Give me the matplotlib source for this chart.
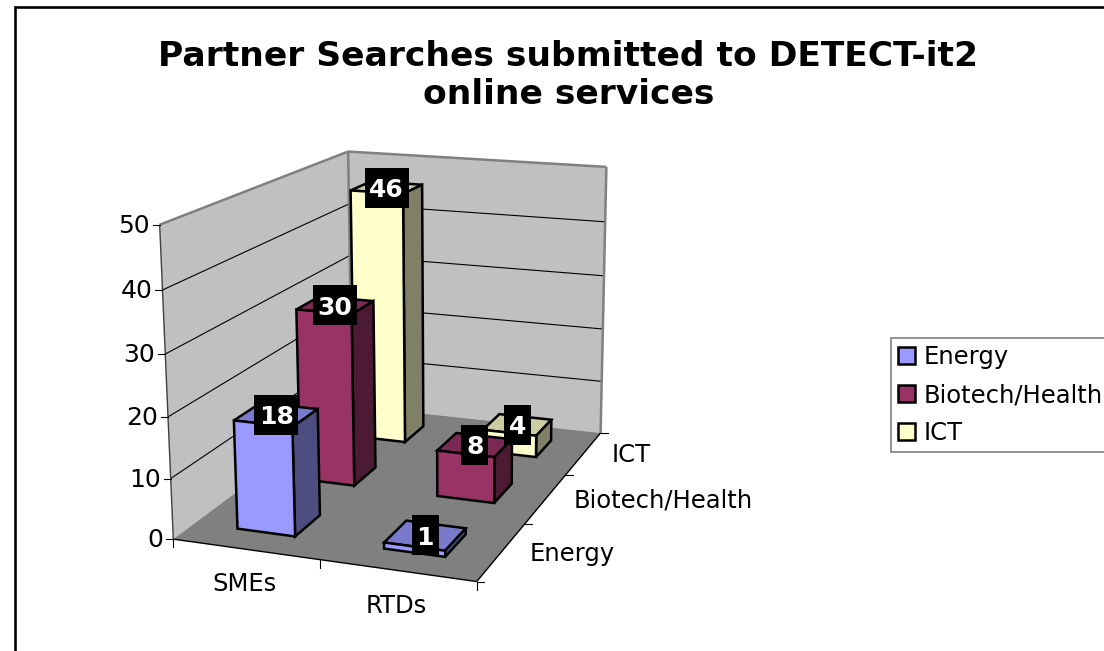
import numpy as np
import matplotlib
matplotlib.use("Agg")
import matplotlib.pyplot as plt
from matplotlib.patches import Polygon, Rectangle, Patch

categories = ["SMEs", "RTDs"]
series_names = ["Energy", "Biotech/Health", "ICT"]
energy = [18, 1]
biotech = [30, 8]
ict = [46, 4]
y_ticks = [0, 10, 20, 30, 40, 50]
y_max = 50

front_cols = ["#9999FF", "#993366", "#FFFFCC"]
side_cols = ["#4D4D80", "#4D1A33", "#808066"]
top_cols = ["#7A7ACC", "#7A2952", "#CCCCA3"]

# box corners on the picture, used to get the 3D -> pixel projection
box_3d = [(0,0,0),(1,0,0),(1,1,0),(0,1,0),(0,0,1),(0,1,1),(1,1,1)]
box_px = [(172.3,539),(476.7,581.7),(600,432.7),(353.5,406),(160.7,224.7),(346.7,151.5),(607,167)]

rows = []
for (X,Y,Z),(u,v) in zip(box_3d,box_px):
    rows.append([X,Y,Z,1,0,0,0,0,-u*X,-u*Y,-u*Z,-u])
    rows.append([0,0,0,0,X,Y,Z,1,-v*X,-v*Y,-v*Z,-v])
P = np.linalg.svd(np.array(rows))[2][-1].reshape(3,4)

def project(x,y,z):
    p = P @ np.array([x,y,z,1.0])
    return p[0]/p[2], p[1]/p[2]

def face(pts,fc,ec="none",lw=0,zo=1):
    ax.add_patch(Polygon([project(*p) for p in pts],closed=True,fc=fc,ec=ec,lw=lw,joinstyle="miter",zorder=zo))

def line(a,b,c="black",lw=0.8,zo=2):
    pa,pb = project(*a),project(*b)
    ax.plot([pa[0],pb[0]],[pa[1],pb[1]],color=c,lw=lw,zorder=zo,solid_capstyle="butt")

fig = plt.figure(figsize=(11.04,6.51),dpi=100)
ax = fig.add_axes([0,0,1,1])
ax.set_xlim(0,1104)
ax.set_ylim(651,0)
ax.axis("off")

plt.rcParams["font.family"] = "DejaVu Sans"

# outer frame
ax.add_patch(Rectangle((14.5,7),1200,800,fc="white",ec="black",lw=1.9,zorder=0))

# title
ax.text(568.5,56.5,"Partner Searches submitted to DETECT-it2",ha="center",va="center",fontsize=24.8,fontweight="bold",color="black")
ax.text(568.5,94.5,"online services",ha="center",va="center",fontsize=24.8,fontweight="bold",color="black")

# walls and floor
face([(0,0,0),(0,1,0),(0,1,1),(0,0,1)],"#C0C0C0")
face([(0,1,0),(1,1,0),(1,1,1),(0,1,1)],"#C0C0C0")
face([(0,0,0),(1,0,0),(1,1,0),(0,1,0)],"#808080")

for t in y_ticks[1:-1]:
    z = t/y_max
    line((0,0,z),(0,1,z))
    line((0,1,z),(1,1,z))
line((0,0,1),(0,1,1),"#808080",1.8)
line((0,1,1),(1,1,1),"#808080",1.8)
line((1,1,1),(1,1,0),"#808080",1.8)
line((0,1,0),(0,1,1),"#808080",1.8)
line((0,0,0),(0,0,1),"#404040",1.0)
line((0,0,0),(1,0,0),"black",1.0)
line((1,0,0),(1,1,0),"black",1.0)

# ticks + labels
for t in y_ticks:
    px,py = project(0,0,t/y_max)
    ax.plot([px-7,px],[py,py],color="black",lw=0.8,zorder=2)
    ax.text(px-10,py+1,str(t),ha="right",va="center",fontsize=18)
for i in range(3):
    px,py = project(i/2,0,0)
    ax.plot([px,px],[py,py+8],color="black",lw=0.8,zorder=2)
for j in range(4):
    px,py = project(1,j/3,0)
    ax.plot([px,px+7],[py,py],color="black",lw=0.8,zorder=2)
cat_off = [(-1,35),(-1,36)]
for i,c in enumerate(categories):
    px,py = project((i+0.5)/2,0,0)
    ax.text(px+cat_off[i][0],py+cat_off[i][1],c,ha="center",va="center",fontsize=17.5)
for j,s in enumerate(series_names):
    px,py = project(1,(j+0.5)/3,0)
    ax.text(px+28,py+2,s,ha="left",va="center",fontsize=17.5)

# bars, back ones first
values = [energy,biotech,ict]
bw = 0.2
bd = 0.4/3
labels = []
for j in [2,1,0]:
    for i in [0,1]:
        v = values[j][i]/y_max
        x0 = (i+0.5)/2-bw/2
        x1 = x0+bw
        y0 = (j+0.5)/3-bd/2
        y1 = y0+bd
        face([(x0,y1,v),(x1,y1,v),(x1,y0,v),(x0,y0,v)],top_cols[j],"black",1.8,3+(2-j))
        face([(x1,y0,0),(x1,y1,0),(x1,y1,v),(x1,y0,v)],side_cols[j],"black",1.8,3+(2-j))
        face([(x0,y0,0),(x1,y0,0),(x1,y0,v),(x0,y0,v)],front_cols[j],"black",1.8,3+(2-j))
        labels.append(((x0+x1)/2,(y0+y1)/2,v,values[j][i]))

for x,y,v,val in labels:
    px,py = project(x,y,v)
    s = str(val)
    w = 44 if len(s) == 2 else 27
    ax.add_patch(Rectangle((px-w/2,py-20),w,40,fc="black",ec="none",zorder=8))
    ax.text(px,py,s,color="white",ha="center",va="center_baseline",fontsize=18,fontweight="bold",zorder=9)

# legend
handles = [Patch(fc=front_cols[j],ec="black",lw=1.8) for j in range(3)]
leg = ax.legend(handles,series_names,loc="upper left",bbox_to_anchor=(891/1104,1-338/651),fontsize=17.5,
                frameon=True,fancybox=False,edgecolor="#808080",borderaxespad=0,borderpad=0.3,
                handlelength=0.7,handleheight=0.7,handletextpad=0.33,labelspacing=0.57,framealpha=1)
leg.get_frame().set_linewidth(1.2)

fig.savefig("out.png",dpi=100)
